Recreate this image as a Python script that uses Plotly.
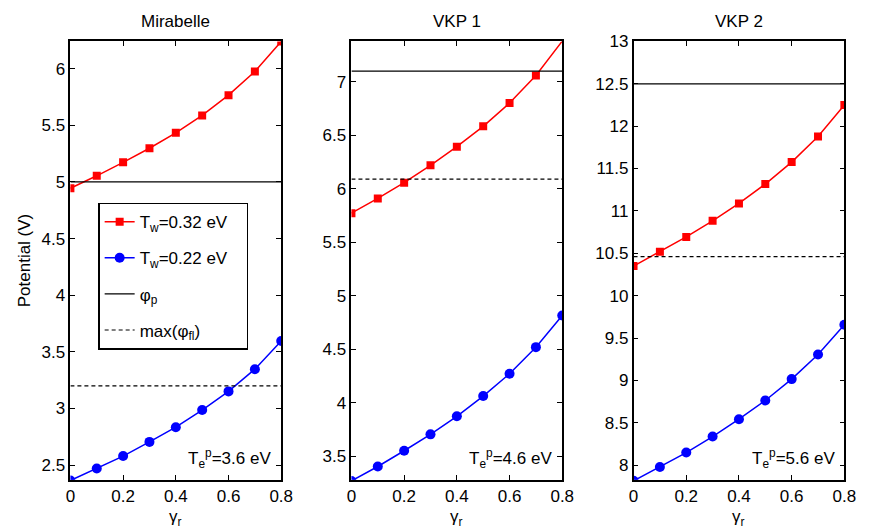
import plotly.graph_objects as go

gamma_r = [0, 0.1, 0.2, 0.3, 0.4, 0.5, 0.6, 0.7, 0.8]
panels = ["Mirabelle", "VKP 1", "VKP 2"]
te_labels = ["3.6", "4.6", "5.6"]

red_mir = [4.944, 5.054, 5.173, 5.297, 5.433, 5.587, 5.766, 5.974, 6.24]
blue_mir = [2.364, 2.47, 2.58, 2.705, 2.835, 2.986, 3.151, 3.347, 3.595]
red_vkp1 = [5.772, 5.910, 6.057, 6.219, 6.394, 6.584, 6.801, 7.058, 7.38]
blue_vkp1 = [3.27, 3.405, 3.552, 3.705, 3.874, 4.063, 4.272, 4.52, 4.816]
red_vkp2 = [10.349, 10.519, 10.693, 10.883, 11.088, 11.317, 11.576, 11.877, 12.249]
blue_vkp2 = [7.814, 7.977, 8.148, 8.337, 8.542, 8.763, 9.015, 9.305, 9.657]

phi_p = [5.0, 7.1, 12.5]
max_phi_fl = [3.2, 6.09, 10.46]

red_all = [red_mir, red_vkp1, red_vkp2]
blue_all = [blue_mir, blue_vkp1, blue_vkp2]
yranges = [[2.37, 6.24], [3.28, 7.377], [7.826, 13.0]]

W, H = 875, 529
xdom_px = [(66.7, 281.7), (353.3, 568.3), (641, 856)]
ytop, ybot = 33, 479

FONT = "Liberation Sans, Arial, Helvetica, sans-serif"
NB = "\u00a0\u00a0\u00a0"
fig = go.Figure()

for i in range(3):
    xa = "x" if i == 0 else f"x{i+1}"
    ya = "y" if i == 0 else f"y{i+1}"
    show = i == 0
    ops = [1] * len(gamma_r)
    if i == 1:
        ops[-1] = 0
    fig.add_trace(go.Scatter(
        x=gamma_r, y=red_all[i], mode="lines+markers", xaxis=xa, yaxis=ya,
        line=dict(color="#ff0000", width=1.5),
        marker=dict(symbol="square", size=8, color="#ff0000", opacity=ops),
        name="T<sub>w</sub>=0.32 eV" + NB, legendgroup="g1", legendrank=1, showlegend=show))
    fig.add_trace(go.Scatter(
        x=gamma_r, y=blue_all[i], mode="lines+markers", xaxis=xa, yaxis=ya,
        line=dict(color="#0000ff", width=1.5),
        marker=dict(symbol="circle", size=10, color="#0000ff"),
        name="T<sub>w</sub>=0.22 eV" + NB, legendgroup="g2", legendrank=2, showlegend=show))
    fig.add_trace(go.Scatter(
        x=[gamma_r[0], gamma_r[-1]], y=[phi_p[i], phi_p[i]], mode="lines",
        xaxis=xa, yaxis=ya, line=dict(color="black", width=1.2),
        name="φ<sub>p</sub>", legendgroup="g3", legendrank=3, showlegend=show))
    fig.add_trace(go.Scatter(
        x=[gamma_r[0], gamma_r[-1]], y=[max_phi_fl[i], max_phi_fl[i]], mode="lines",
        xaxis=xa, yaxis=ya, line=dict(color="black", width=1.2, dash="4px,3px"),
        name="max(φ<sub>fl</sub>)", legendgroup="g4", legendrank=4, showlegend=show))

axis_common = dict(
    showline=True, linecolor="black", linewidth=1.6, mirror="allticks",
    ticks="inside", ticklen=5, tickwidth=1, tickcolor="black",
    showgrid=False, zeroline=False,
    tickfont=dict(family=FONT, size=17, color="black"),
)

layout = dict(
    width=W, height=H, margin=dict(l=0, r=0, t=0, b=0),
    plot_bgcolor="white", paper_bgcolor="white",
    font=dict(family=FONT, size=17, color="black"),
    legend=dict(x=95 / W, y=1 - 197 / H, xanchor="left", yanchor="top",
                bordercolor="black", borderwidth=1.5, bgcolor="white",
                font=dict(family=FONT, size=17, color="black"),
                tracegroupgap=11, itemwidth=30),
)
annotations = []
for i in range(3):
    xk = "xaxis" if i == 0 else f"xaxis{i+1}"
    yk = "yaxis" if i == 0 else f"yaxis{i+1}"
    x0, x1 = xdom_px[i]
    layout[xk] = dict(axis_common, domain=[x0 / W, x1 / W], range=[0, 0.8],
                      tickvals=[0, 0.2, 0.4, 0.6, 0.8],
                      anchor="y" if i == 0 else f"y{i+1}")
    layout[yk] = dict(axis_common, domain=[1 - ybot / H, 1 - ytop / H],
                      range=yranges[i], dtick=0.5, tick0=0,
                      anchor="x" if i == 0 else f"x{i+1}")
    cx = (x0 + x1) / 2
    annotations.append(dict(text=panels[i], x=cx / W, y=1 - 13 / H, xref="paper", yref="paper",
                            showarrow=False, font=dict(size=17), xanchor="center", yanchor="middle"))
    annotations.append(dict(text="γ<sub>r</sub>", x=cx / W, y=1 - 518 / H, xref="paper", yref="paper",
                            showarrow=False, font=dict(size=17), xanchor="center", yanchor="middle"))
    annotations.append(dict(text=f"T<sub>e</sub><sup>p</sup>={te_labels[i]} eV",
                            x=(x1 - 8) / W, y=1 - 457 / H, xref="paper", yref="paper",
                            showarrow=False, font=dict(size=17), xanchor="right", yanchor="middle"))

annotations.append(dict(text="Potential (V)", x=20 / W, y=1 - 256 / H, xref="paper", yref="paper",
                        showarrow=False, textangle=-90, font=dict(size=17),
                        xanchor="center", yanchor="middle"))
layout["annotations"] = annotations
fig.update_layout(**layout)
fig.write_html("out.html")
